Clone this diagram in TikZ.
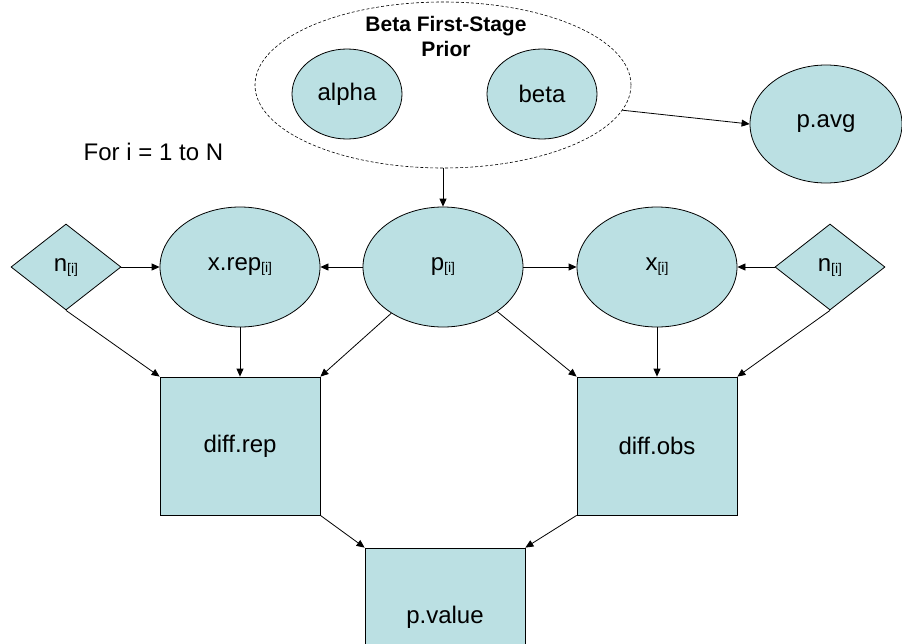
\documentclass[tikz,border=0pt]{standalone}
\usepackage{fontspec}
\setmainfont{Liberation Sans}
\usetikzlibrary{shapes.geometric, arrows.meta}
\definecolor{nodefill}{RGB}{187,224,227}
\newcommand{\idx}{\raisebox{-2pt}{\fontsize{14}{14}\selectfont[i]}}

\begin{document}
\begin{tikzpicture}[x=1pt, y=-1pt, font=\fontsize{24}{26}\selectfont,
                >={Triangle[length=8pt, width=7pt]}, line width=0.8pt,
                stoch/.style={ellipse, draw, fill=nodefill, inner sep=0pt, minimum width=160pt, minimum height=120pt},
                hyper/.style={ellipse, draw, fill=nodefill, inner sep=0pt, minimum width=110pt, minimum height=90pt},
                const/.style={diamond, draw, fill=nodefill, inner sep=0pt, minimum width=110pt, minimum height=86pt},
                logic/.style={rectangle, draw, fill=nodefill, inner sep=0pt, minimum width=160pt, minimum height=138pt}]
                \clip (0,0) rectangle (902,643);
                % first-stage prior
                \node[ellipse, draw, dash pattern=on 3pt off 2pt, line width=0.6pt, inner sep=0pt, minimum width=376pt, minimum height=166pt] (prior) at (443,85) {};
                \node[align=center, font=\fontsize{21}{25}\selectfont\bfseries] (priorlab) at (446,36) {Beta First-Stage\\Prior};
                \node[hyper] (alpha) at (347,94) {alpha};
                \node[hyper] (beta) at (542,94) {beta};
                \node[stoch, minimum width=152pt, minimum height=118pt] (pavg) at (826,124) {p.avg};
                \node[anchor=west] (loop) at (80,152) {For i = 1 to N};
                % stochastic nodes
                \node[stoch] (p) at (443,267) {p\idx};
                \node[stoch] (xrep) at (240,267) {x.rep\idx};
                \node[stoch] (x) at (657,267) {x\idx};
                \node[const] (nl) at (66,267) {n\idx};
                \node[const] (nr) at (830,267) {n\idx};
                % logical nodes
                \node[logic] (drep) at (240,446) {diff.rep};
                \node[logic] (dobs) at (657,446) {diff.obs};
                \node[logic] (pval) at (445,617) {p.value};
                % edges
                \draw[->] (prior.-8) -- (pavg.west);
                \draw[->] (prior.south) -- (p.north);
                \draw[->] (nl.east) -- (xrep.west);
                \draw[->] (p.west) -- (xrep.east);
                \draw[->] (p.east) -- (x.west);
                \draw[->] (nr.west) -- (x.east);
                \draw[->] (nl.south) -- (drep.north west);
                \draw[->] (xrep.south) -- (drep.north);
                \draw[->] (p) -- (drep.north east);
                \draw[->] (p) -- (dobs.north west);
                \draw[->] (x.south) -- (dobs.north);
                \draw[->] (nr.south) -- (dobs.north east);
                \draw[->] (drep.south east) -- (pval.north west);
                \draw[->] (dobs.south west) -- (pval.north east);
            \end{tikzpicture}
\end{document}
